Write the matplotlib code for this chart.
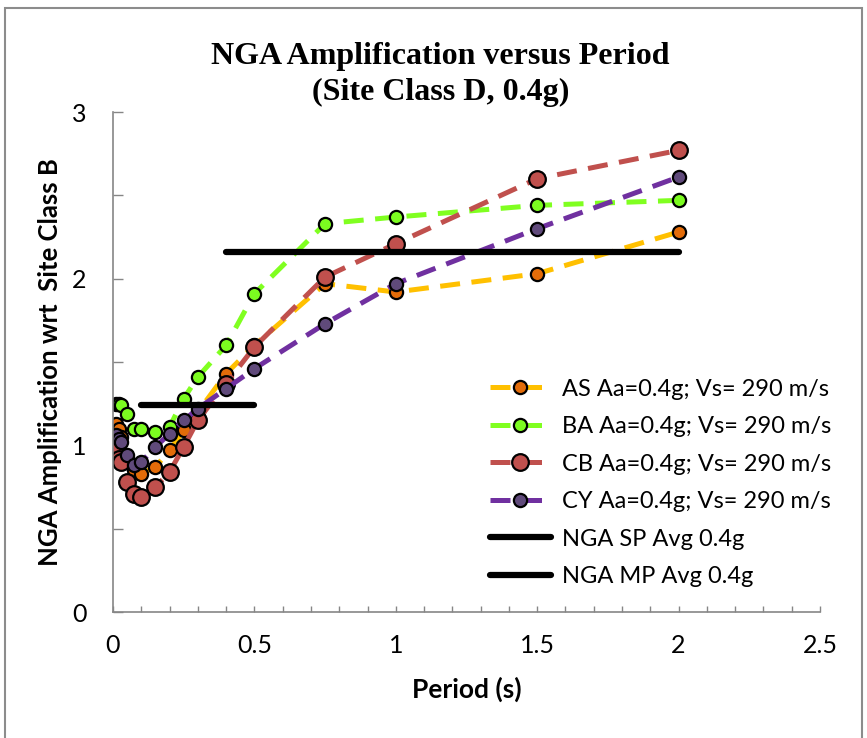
import matplotlib
matplotlib.use("Agg")
import matplotlib.pyplot as plt
from matplotlib.patches import Rectangle
from matplotlib.ticker import MultipleLocator

plt.rcParams['font.family'] = ['Lato', 'DejaVu Sans']

# spectral periods (s)
periods = [0.01, 0.02, 0.03, 0.05, 0.075, 0.1, 0.15, 0.2, 0.25, 0.3,
           0.4, 0.5, 0.75, 1.0, 1.5, 2.0]

# amplification relative to site class B, one list per GMPE
amp_as = [1.13, 1.10, 1.05, 0.92, 0.85, 0.83, 0.87, 0.97, 1.09, 1.20,
          1.43, 1.60, 1.97, 1.92, 2.03, 2.28]
amp_ba = [1.25, 1.25, 1.24, 1.19, 1.10, 1.10, 1.08, 1.11, 1.28, 1.41,
          1.60, 1.91, 2.33, 2.37, 2.44, 2.47]
amp_cb = [0.97, 0.92, 0.90, 0.78, 0.71, 0.69, 0.75, 0.84, 0.99, 1.15,
          1.37, 1.59, 2.01, 2.21, 2.60, 2.77]
amp_cy = [1.06, 1.04, 1.02, 0.94, 0.88, 0.90, 0.99, 1.07, 1.15, 1.22,
          1.34, 1.46, 1.73, 1.97, 2.30, 2.61]

# averaged short / mid period amplification
sp_range = [0.1, 0.5]
sp_avg = 1.24
mp_range = [0.4, 2.0]
mp_avg = 2.16

labels = ["AS Aa=0.4g; Vs= 290 m/s", "BA Aa=0.4g; Vs= 290 m/s",
          "CB Aa=0.4g; Vs= 290 m/s", "CY Aa=0.4g; Vs= 290 m/s",
          "NGA SP Avg 0.4g", "NGA MP Avg 0.4g"]

fig = plt.figure(figsize=(8.67, 7.38), dpi=100)
ax = fig.add_axes([0.1303, 0.1707, 0.8155, 0.6775])

# outer chart frame
fig.patches.append(Rectangle((5 / 867, -0.05), 857 / 867, 1.05 - 8 / 738,
                             transform=fig.transFigure, fill=False,
                             edgecolor="#8c8c8c", linewidth=1.5))

series = [
    (amp_as, "#FFC000", "#E36C09", 9.5),
    (amp_ba, "#80FF20", "#7CFC20", 9.5),
    (amp_cb, "#C0504D", "#C0504D", 12),
    (amp_cy, "#7030A0", "#604A7B", 9.5),
]
for (vals, lc, mc, ms), lab in zip(series, labels):
    ax.plot(periods, vals, color=lc, linestyle=(0, (4, 2.3)), linewidth=3.6,
            marker="o", markersize=ms, markerfacecolor=mc,
            markeredgecolor="black", markeredgewidth=1.6, label=lab)

ax.plot(sp_range, [sp_avg, sp_avg], color="black", linewidth=4.5,
        solid_capstyle="round", label=labels[4])
ax.plot(mp_range, [mp_avg, mp_avg], color="black", linewidth=4.5,
        solid_capstyle="round", label=labels[5])

ax.set_xlim(0, 2.5)
ax.set_ylim(0, 3)
ax.xaxis.set_major_locator(MultipleLocator(0.5))
ax.xaxis.set_minor_locator(MultipleLocator(0.1))
ax.yaxis.set_major_locator(MultipleLocator(1))
ax.yaxis.set_minor_locator(MultipleLocator(0.5))
ax.xaxis.set_major_formatter(plt.FuncFormatter(lambda v, p: f"{v:g}"))
ax.yaxis.set_major_formatter(plt.FuncFormatter(lambda v, p: f"{v:g}"))

for side in ("top", "right"):
    ax.spines[side].set_visible(False)
for side in ("left", "bottom"):
    ax.spines[side].set_color("#868686")
    ax.spines[side].set_linewidth(1.2)

ax.tick_params(axis="y", which="both", direction="in", color="#868686",
               width=1, length=7, pad=19, labelsize=18)
ax.tick_params(axis="x", which="both", direction="in", color="#868686",
               width=1, length=4, pad=16, labelsize=18)

ax.set_xlabel("Period (s)", fontsize=19, fontweight="bold", labelpad=14)
ax.set_ylabel("NGA Amplification wrt  Site Class B", fontsize=18.5,
              fontweight="bold", labelpad=7)

fig.text(0.508, 0.899, "NGA Amplification versus Period\n(Site Class D, 0.4g)",
         ha="center", va="center", fontsize=23, fontweight="bold",
         family="Liberation Serif", linespacing=1.32)

ax.legend(loc="upper left", bbox_to_anchor=(0.551, 0.503),
          bbox_transform=fig.transFigure, frameon=False, fontsize=17,
          handlelength=2.6, handletextpad=0.45, labelspacing=0.7,
          borderpad=0)

fig.savefig("out.png", dpi=100)
